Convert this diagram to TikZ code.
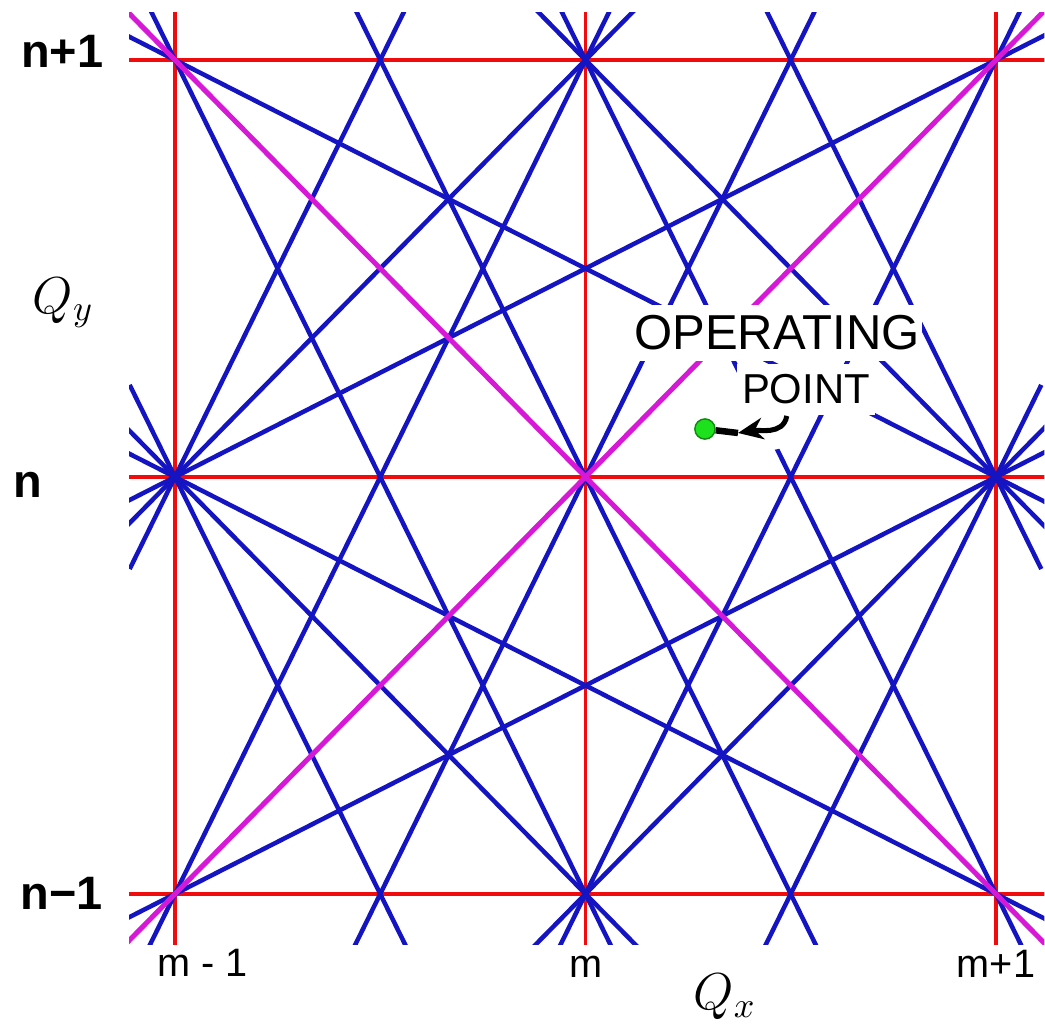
\documentclass[tikz,border=0pt]{standalone}
\usepackage{amsmath}
\usepackage{fontspec}
\setsansfont{Liberation Sans}
\usepackage{tikz}
\usetikzlibrary{arrows.meta}
\definecolor{resblue}{RGB}{20,20,195}
\definecolor{resred}{RGB}{240,12,12}
\definecolor{resmagenta}{RGB}{215,25,215}
\definecolor{opgreen}{RGB}{30,225,30}
\tikzset{
  grid_line/.style = {resred, line width=1.1pt,
    shorten <=-1cm, shorten >=-1cm},% integer tunes
  res_line/.style = {resblue, line width=1.25pt,
    shorten <=-1cm, shorten >=-1cm},% 2nd and 3rd order lines
  coupling_line/.style = {res_line, resmagenta, line width=1.4pt},% Qx +- Qy
  n_label/.style = {anchor=base, inner sep=0pt,
    font=\sffamily\bfseries\fontsize{13}{15}\selectfont},
  m_label/.style = {anchor=base, inner sep=0pt,
    font=\sffamily\fontsize{11}{13}\selectfont},
  axis_label/.style = {anchor=base, inner sep=0pt,
    font=\fontsize{14.6}{17}\selectfont},
  op_text/.style = {anchor=base, fill=white, inner xsep=0.6pt,
    inner ysep=3pt, font=\sffamily},% text cuts the lines
  op_dot/.style = {circle, fill=opgreen, draw=opgreen!60!black,
    line width=0.4pt, minimum size=5.6pt, inner sep=0pt}
}

\begin{document}
\begin{tikzpicture}[x=4cm, y=4.0633cm]
  \useasboundingbox (-0.4263,-0.3405) rectangle (2.1194,2.1439);
  \begin{scope}
    \clip (-0.112,-0.122) rectangle (2.118,2.115);
    \foreach \k in {0,1,2} {
      \draw[grid_line] (\k,0) -- (\k,2);
      \draw[grid_line] (0,\k) -- (2,\k);
    }
    \foreach \xa/\ya/\xb/\yb in {0/1/1/0, 1/2/2/1, 0/1/1/2, 1/0/2/1,
        0/1/0.5/0, 0/2/1/0, 0.5/2/1.5/0, 1/2/2/0, 1.5/2/2/1,
        0/1/0.5/2, 0/0/1/2, 0.5/0/1.5/2, 1/0/2/2, 1.5/0/2/1,
        0/1/2/0, 0/2/2/1, 0/0/2/1, 0/1/2/2}
      \draw[res_line] (\xa,\ya) -- (\xb,\yb);
    \draw[coupling_line] (0,2) -- (2,0);
    \draw[coupling_line] (0,0) -- (2,2);
  \end{scope}

  \node[n_label] (lbl_np1) at (-0.275,1.981) {n+1};
  \node[n_label] (lbl_n) at (-0.359,0.950) {n};
  \node[n_label] (lbl_nm1) at (-0.276,-0.038) {n−1};
  \node[m_label] (lbl_mm1) at (0.067,-0.199) {m - 1};
  \node[m_label] (lbl_m) at (1.0024,-0.201) {m};
  \node[m_label] (lbl_mp1) at (2.000,-0.201) {m+1};
  \node[axis_label] (lbl_qy) at (-0.272,1.393) {$Q_y$};
  \node[axis_label] (lbl_qx) at (1.340,-0.278) {$Q_x$};

  \node[op_text, font=\sffamily\fontsize{13.6}{16}\selectfont] (op_top) at (1.4665,1.3046) {OPERATING};
  \node[op_text, inner xsep=1.5pt, font=\sffamily\fontsize{11.6}{14}\selectfont] (op_point) at (1.537,1.175) {POINT};

  \node[op_dot] (op_pt) at (1.291,1.115) {};
  \coordinate (arr_tip) at (1.3715,1.1055);
  \draw[white, line width=11pt] ([xshift=-5.3pt]op_point.south) to[out=-100,in=10] (arr_tip);
  \draw[line width=1.4pt, -{Stealth[length=7pt,width=6pt]}]
    ([xshift=-5.3pt]op_point.south) to[out=-100,in=10] (arr_tip);
  \draw[line width=1.8pt] (arr_tip) -- (op_pt);
\end{tikzpicture}
\end{document}
